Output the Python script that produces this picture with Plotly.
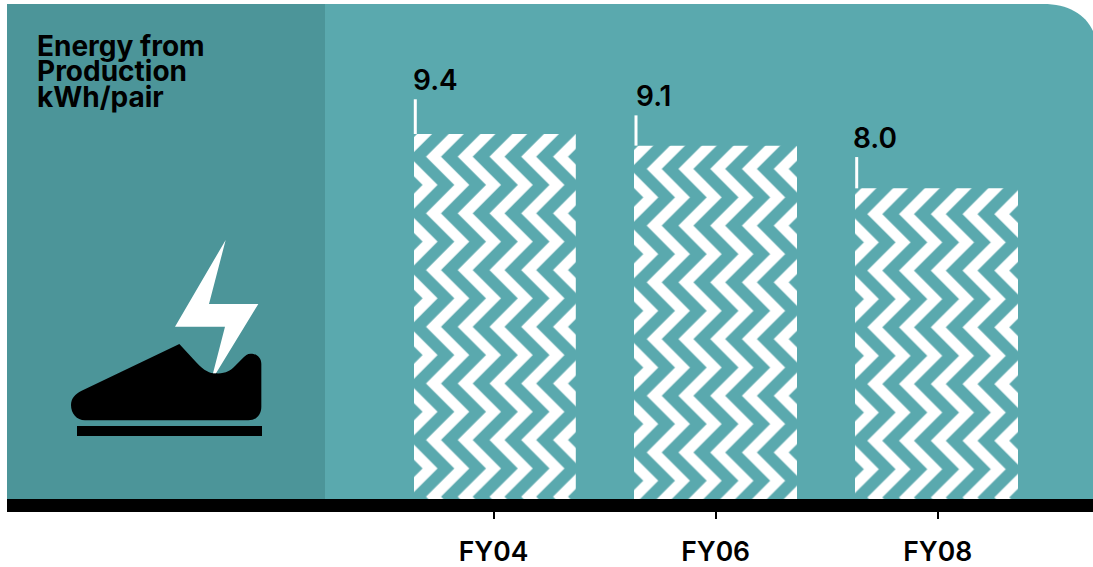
import plotly.graph_objects as go

categories = ["FY04", "FY06", "FY08"]
energy_kwh_per_pair = [9.4, 9.1, 8.0]
value_labels = ["9.4", "9.1", "8.0"]
title_lines = ["Energy from", "Production", "kWh/pair"]

TEAL = "#5AA9AE"
DARK = "#4C9599"
W, H = 1093, 567
L, T, B = 7, 4, 499
FONT = "Inter"
X0, DX = 493.5, 222.1      # pixel position of the first tick, tick spacing
PX_PER_UNIT = 38.83
BAR_LEFT_PX = [-79.5, -81.6, -82.7]
BAR_W_PX = [161.8, 163.0, 163.0]
LEADER_X_PX = [-78.2, -79.6, -81.0]
LEADER_H = [0.894, 0.78, 0.806]
LABEL_XSHIFT = [-83, -81.6, -86.7]
LABEL_YSHIFT = [34.7, 30.3, 31.6]
TILE_PHASE_X = [426.0, 646.7, 867.3]
TILE_PHASE_Y = [156.7, 169.0, 214.0]

def px(x):
    return (x - L) / (W - L)
def py(y):
    return (B - y) / (B - T)
def path(pts, close=True):
    return "M " + " L ".join(f"{px(50 + a / 3):.5f},{py(230 + b / 3):.5f}" for a, b in pts) + (" Z" if close else "")

# chevron tile: 25 zigzag stripes wide, 14 zigzag periods tall
TILE = 793.5
NCOL, NROW = 25, 14
SX, SY = TILE / NCOL, TILE / NROW
def tile_path(phase_x, phase_y):
    ox, oy = (phase_x - L) % SX, (phase_y - T) % SY
    parts = []
    for j in range(-2, NCOL + 1):
        x0 = ox + j * SX
        lft, rgt = [], []
        for k in range(-1, 2 * NROW + 3):
            y = oy + (k - 2) * SY / 2
            x = x0 + (28.3 if k % 2 else 0)
            lft.append((x, y))
            rgt.append((x + 15.0, y))
        poly = lft + rgt[::-1]
        parts.append("M" + "L".join(f"{a:.1f},{b:.1f}" for a, b in poly) + "Z")
    return "".join(parts)

fig = go.Figure(go.Bar(
    x=categories, y=energy_kwh_per_pair, width=[w / DX for w in BAR_W_PX],
    offset=[b / DX for b in BAR_LEFT_PX],
    marker=dict(color=TEAL, line_width=0,
                pattern=dict(path=[tile_path(a, b) for a, b in zip(TILE_PHASE_X, TILE_PHASE_Y)],
                             size=TILE, bgcolor=TEAL, fgcolor="white", solidity=1, fgopacity=1)),
    hoverinfo="skip",
))

shapes = [
    dict(type="rect", xref="paper", yref="paper", x0=px(L), x1=px(325), y0=0, y1=1, fillcolor=DARK, line_width=0, layer="below"),
    dict(type="path", xref="paper", yref="paper", layer="below", line_width=0, fillcolor=TEAL,
         path=f"M {px(325)},{py(B)} L {px(325)},{py(T)} L {px(1043)},{py(T)} C {px(1068)},{py(T)} {px(1085)},{py(14)} {px(1093)},{py(31)} L {px(1093)},{py(B)} Z"),
    # shoe
    dict(type="path", xref="paper", yref="paper", line_width=0, fillcolor="black",
         path=("M {} L {} C {} {} {} C {} {} {} L {} C {} {} {} C {} {} {} L {} C {} {} {} L {} C {} {} {} C {} {} {} Z").format(
             *[f"{px(50 + a / 3):.5f},{py(230 + b / 3):.5f}" for a, b in [
                 (388, 342), (440, 398), (462, 422), (480, 430), (497, 430), (525, 432), (542, 422), (555, 408),
                 (578, 385), (586, 376), (592, 371), (602, 371), (622, 371), (634, 385), (634, 402),
                 (634, 530), (634, 555), (618, 571), (595, 571), (105, 571), (80, 571), (63, 550), (63, 525),
                 (63, 505), (75, 492), (95, 482)]])),
    dict(type="path", xref="paper", yref="paper", line_width=0, fillcolor="black",
         path=path([(81, 588), (636, 588), (636, 618), (81, 618)])),
    dict(type="path", xref="paper", yref="paper", line_width=0, fillcolor="white",
         path=path([(527, 30), (375, 290), (525, 290), (489, 430), (498, 430), (625, 222), (477, 222)])),
]
annotations = []
for i, (v, lab) in enumerate(zip(energy_kwh_per_pair, value_labels)):
    xl = i + LEADER_X_PX[i] / DX
    shapes.append(dict(type="line", xref="x", yref="y", x0=xl, x1=xl, y0=v, y1=v + LEADER_H[i],
                       line=dict(color="white", width=3)))
    annotations.append(dict(x=i, y=v, xref="x", yref="y", text=lab, showarrow=False,
                            xanchor="left", yanchor="bottom", yshift=LABEL_YSHIFT[i], xshift=LABEL_XSHIFT[i],
                            font=dict(family=FONT, size=28, color="black", weight=600)))
for line, base in zip(title_lines, [54, 79, 105]):
    annotations.append(dict(x=px(35), y=py(base), xref="paper", yref="paper", text=line, showarrow=False,
                            xanchor="left", yanchor="middle", yshift=8,
                            font=dict(family=FONT, size=28, color="black", weight=700)))

fig.update_layout(
    width=W, height=H, autosize=False,
    margin=dict(l=L, r=0, t=T, b=H - B),
    paper_bgcolor="white", plot_bgcolor="rgba(0,0,0,0)",
    showlegend=False, shapes=shapes, annotations=annotations,
    xaxis=dict(type="category", categoryorder="array", categoryarray=categories,
               range=[(L - X0) / DX, (W - X0) / DX], showgrid=False, zeroline=False,
               showline=True, linecolor="black", linewidth=13,
               ticks="outside", ticklen=7, tickwidth=2, tickcolor="black", ticklabelstandoff=10,
               tickfont=dict(family=FONT, size=26.5, color="black", weight=600)),
    yaxis=dict(range=[0, (B - T) / PX_PER_UNIT], visible=False, showgrid=False, zeroline=False),
)
fig.write_html("out.html", config=dict(displayModeBar=False),
               post_script="document.documentElement.style.margin='0';document.body.style.margin='0';")
